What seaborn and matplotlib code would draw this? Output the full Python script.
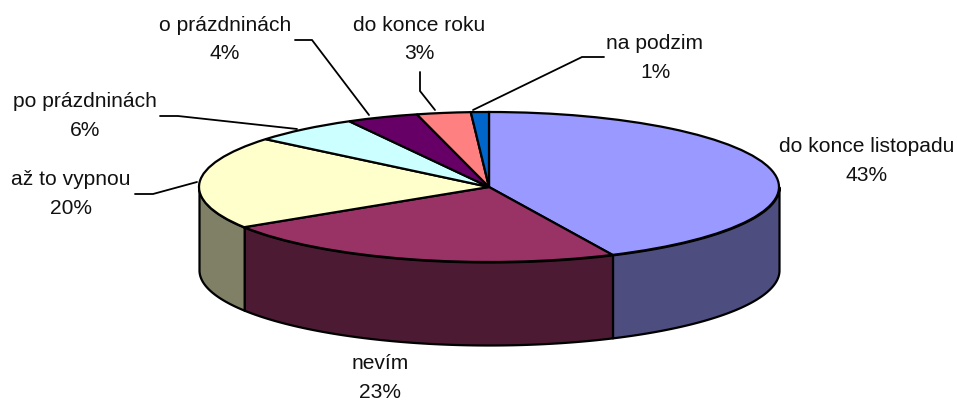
import numpy as np
import matplotlib
matplotlib.use("Agg")
import matplotlib.pyplot as plt
import seaborn as sns

categories = ["do konce listopadu", "nevím", "až to vypnou", "po prázdninách",
              "o prázdninách", "do konce roku", "na podzim"]
values = [43, 23, 20, 6, 4, 3, 1]
top_colors = ["#9999FF", "#993366", "#FFFFCC", "#CCFFFF", "#660066", "#FF8080", "#0066CC"]

# label centres and leader lines, in picture pixels
label_pos = [(867, 161), (380, 378), (71, 194), (85, 116), (225, 39.5), (419, 39.5), (655, 58)]
leaders = [None, None,
           [(197, 182), (153, 194), (135, 194)],
           [(297, 129), (178, 116), (160, 116)],
           [(369, 115), (312, 40), (295, 40)],
           [(435, 110), (420, 91), (420, 72)],
           [(473, 110), (582, 57), (604, 57)]]

W, H = 957, 400
CX, CY, RX, RY, DEPTH = 489, 187, 290, 75, 83

sns.set_theme(style="white")
plt.rcParams['font.family'] = ['Liberation Sans', 'DejaVu Sans']

palette = sns.color_palette(top_colors)
side_colors = [tuple(c * 0.5 for c in col) for col in palette]

fig = plt.figure(figsize=(W / 100, H / 100), dpi=100)
ax = fig.add_axes([0, 0, 1, 1])

ax.pie(values, colors=palette, startangle=90, counterclock=False, radius=1,
       wedgeprops=dict(edgecolor="black", linewidth=1.6, zorder=3))
ax.set_aspect("auto")
ax.set_xlim(-CX / RX, (W - CX) / RX)
ax.set_ylim(-(H - CY) / RY, CY / RY)


def px(x, y):
    return (x - CX) / RX, (CY - y) / RY


# side wall, only the front half of the disc shows
ends = 90 - np.cumsum([0] + values) * 3.6
for i in range(len(values)):
    t0 = min(ends[i], 0)
    t1 = max(ends[i + 1], -180)
    if t1 >= t0:
        continue
    t = np.radians(np.linspace(t0, t1, 120))
    ax.fill_between(np.cos(t), np.sin(t), np.sin(t) - DEPTH / RY, color=side_colors[i],
                    edgecolor="black", linewidth=1.6, zorder=1)

for i, cat in enumerate(categories):
    x, y = px(*label_pos[i])
    ax.text(x, y, f"{cat}\n{values[i]}%", ha="center", va="center", multialignment="center",
            fontsize=15.1, color="#111111", linespacing=1.66, zorder=5)
    if leaders[i] is not None:
        xs, ys = zip(*[px(*p) for p in leaders[i]])
        ax.plot(xs, ys, color="black", lw=1.3, zorder=4, solid_joinstyle="miter")

fig.savefig("out.png", dpi=100, facecolor="white")
